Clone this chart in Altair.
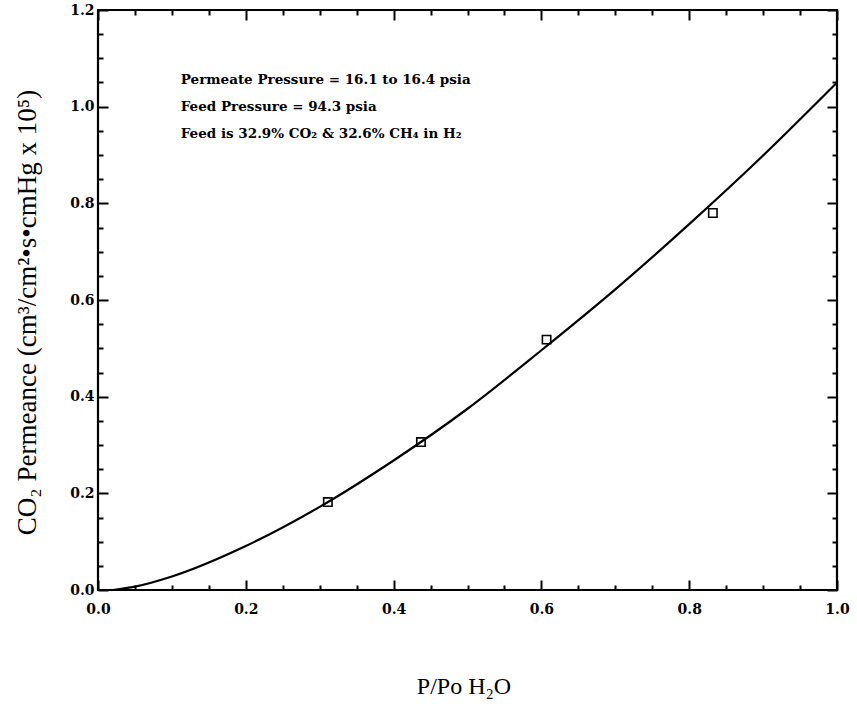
import altair as alt
import pandas as pd

# Measured CO2 permeance vs. water vapour activity
point_x = [0.311, 0.437, 0.607, 0.832]
point_y = [0.182, 0.306, 0.518, 0.780]

# Fitted trend line
curve_x = [0.02, 0.05, 0.1, 0.2, 0.3, 0.4, 0.5, 0.6, 0.7, 0.8, 0.9, 1.0]
curve_y = [0.0, 0.007, 0.028, 0.091, 0.172, 0.268, 0.375, 0.496, 0.622, 0.757, 0.899, 1.05]

# Test conditions printed inside the plot
notes = [
    "Permeate Pressure = 16.1 to 16.4 psia",
    "Feed Pressure = 94.3 psia",
    "Feed is 32.9% CO₂ & 32.6% CH₄ in H₂",
]
note_x = [0.112, 0.112, 0.112]
note_y = [1.055, 1.0, 0.943]

x_major = [0.0, 0.2, 0.4, 0.6, 0.8, 1.0]
x_minor = [0.05, 0.1, 0.15, 0.25, 0.3, 0.35, 0.45, 0.5, 0.55, 0.65, 0.7, 0.75, 0.85, 0.9, 0.95]
y_major = [0.0, 0.2, 0.4, 0.6, 0.8, 1.0, 1.2]
y_minor = [0.05, 0.1, 0.15, 0.25, 0.3, 0.35, 0.45, 0.5, 0.55, 0.65, 0.7, 0.75,
           0.85, 0.9, 0.95, 1.05, 1.1, 1.15]

W, H = 739, 580
SERIF = "Liberation Serif"
BOLD = "DejaVu Serif"

points = pd.DataFrame({"x": point_x, "y": point_y})
curve = pd.DataFrame({"x": curve_x, "y": curve_y})
note_df = pd.DataFrame({"x": note_x, "y": note_y, "t": notes})

xs = alt.Scale(domain=[0, 1], nice=False, zero=False)
ys = alt.Scale(domain=[0, 1.2], nice=False, zero=False)


def tick_axis(orient, offset, values, size):
    return alt.Axis(orient=orient, offset=offset, values=values, labels=False,
                    domain=False, grid=False, ticks=True, tickSize=size,
                    tickWidth=2, tickColor="black", title=None)


# Main layer: curve, with the labelled bottom and left axes
line = alt.Chart(curve).mark_line(color="black", strokeWidth=2.2, interpolate="monotone").encode(
    x=alt.X("x:Q", scale=xs, axis=alt.Axis(
        orient="bottom", values=x_major, format=".1f", domain=False, ticks=False,
        grid=False, labelPadding=12, labelFlush=False, labelFont=BOLD,
        labelFontWeight="bold", labelFontSize=14, labelColor="black",
        title="P/Po H₂O", titleFont=SERIF, titleFontWeight="normal",
        titleFontSize=24, titleColor="black", titleX=W / 2 - 4, titleY=84,
        titleBaseline="top")),
    y=alt.Y("y:Q", scale=ys, axis=alt.Axis(
        orient="left", values=y_major, format=".1f", domain=False, ticks=False,
        grid=False, labelPadding=4, labelFlush=False, labelFont=BOLD,
        labelFontWeight="bold", labelFontSize=14, labelColor="black",
        title="CO₂ Permeance (cm³/cm²•s•cmHg x 10⁵)", titleFont=SERIF,
        titleFontWeight="normal", titleFontSize=27, titleColor="black",
        titleX=-57, titleY=302, titleAngle=-90, titleBaseline="bottom")),
)

# Data points: open squares; carry the inward major ticks on bottom/left edges
pts = alt.Chart(points).mark_point(shape="square", filled=False, color="black",
                                   size=70, strokeWidth=1.6, opacity=1).encode(
    x=alt.X("x:Q", scale=xs, axis=tick_axis("top", -H, x_major, 10)),
    y=alt.Y("y:Q", scale=ys, axis=tick_axis("right", -W, y_major, 10)),
)


def ghost(xaxis, yaxis):
    return alt.Chart(points).mark_point(opacity=0).encode(
        x=alt.X("x:Q", scale=xs, axis=xaxis),
        y=alt.Y("y:Q", scale=ys, axis=yaxis),
    )


minor_in = ghost(tick_axis("top", -H, x_minor, 5), tick_axis("right", -W, y_minor, 5))
major_far = ghost(tick_axis("bottom", -H, x_major, 10), tick_axis("left", -W, y_major, 10))
minor_far = ghost(tick_axis("bottom", -H, x_minor, 5), tick_axis("left", -W, y_minor, 5))

text = alt.Chart(note_df).mark_text(align="left", baseline="middle", font=BOLD,
                                    fontWeight="bold", fontSize=13.5, color="black").encode(
    x=alt.X("x:Q", scale=xs, axis=None),
    y=alt.Y("y:Q", scale=ys, axis=None),
    text="t:N",
)

chart = alt.layer(line, pts, minor_in, major_far, minor_far, text).resolve_axis(
    x="independent", y="independent"
).properties(
    width=W, height=H, autosize="none",
    padding={"left": 98, "top": 10, "right": 20, "bottom": 114},
    background="white",
).configure_view(stroke="black", strokeWidth=2.2)

chart.save("out.html", embed_options={"renderer": "svg", "actions": False})
